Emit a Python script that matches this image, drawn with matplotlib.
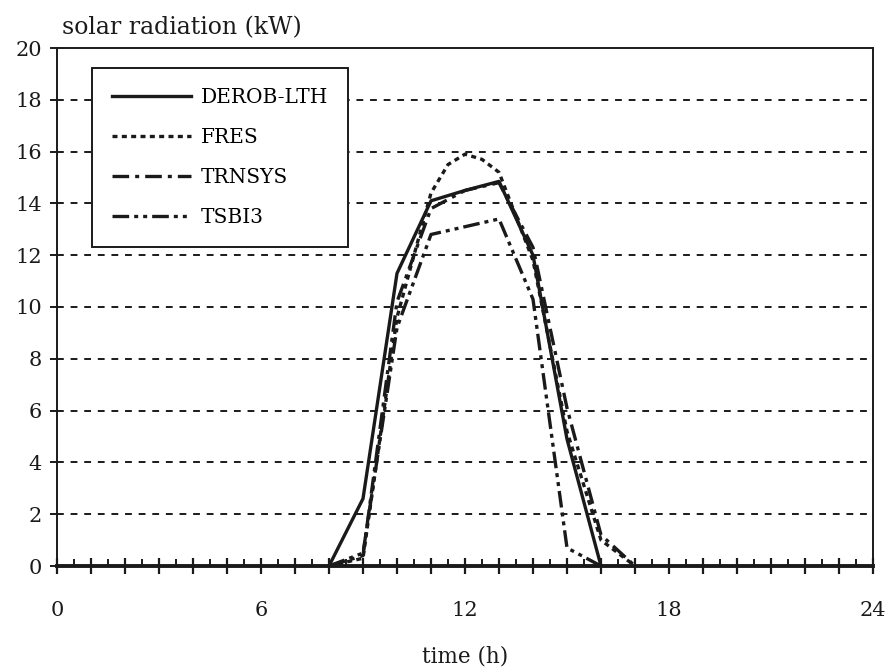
import numpy as np
import matplotlib.pyplot as plt
from matplotlib.ticker import MultipleLocator, FuncFormatter

# values
h_derob = [8, 9, 10, 11, 12, 13, 14, 15, 16]
derob = [0.0, 2.6, 11.3, 14.1, 14.5, 14.85, 12.0, 4.9, 0.0]

h_fres = [8, 9, 10, 11, 11.5, 12, 12.5, 13, 14, 15, 16, 17]
fres = [0.0, 0.3, 9.6, 14.4, 15.5, 15.9, 15.7, 15.2, 11.8, 5.2, 1.0, 0.0]

h_trnsys = [8, 9, 10, 11, 12, 13, 14, 15, 16, 17]
trnsys = [0.0, 0.4, 10.2, 13.8, 14.5, 14.8, 12.3, 6.1, 1.2, 0.0]

h_tsbi3 = [8, 9, 10, 11, 12, 13, 14, 15, 16]
tsbi3 = [0.0, 0.5, 9.2, 12.8, 13.1, 13.4, 10.3, 0.7, 0.0]

plt.rcParams["font.family"] = ["DejaVu Serif"]

fig = plt.figure(figsize=(8.9, 6.68), dpi=100)
ax = fig.add_axes([57 / 890, 102 / 668, 816 / 890, 518 / 668])

ink = "#1a1a1a"
lw = 2.4
ax.plot(h_derob, derob, color=ink, lw=lw, ls="-", label="DEROB-LTH", zorder=5)
ax.plot(h_fres, fres, color=ink, lw=lw, ls=(0, (1.5, 1.3)), label="FRES", zorder=4)
ax.plot(h_trnsys, trnsys, color=ink, lw=lw, ls=(0, (5, 1.8, 1.2, 1.8)), label="TRNSYS", zorder=4)
ax.plot(h_tsbi3, tsbi3, color=ink, lw=lw, ls=(0, (5, 1.5, 1.2, 1.5, 1.2, 1.5)), label="TSBI3", zorder=4)

ax.set_xlim(0, 24)
ax.set_ylim(0, 20)

# horizontal dashed grid
for yv in range(2, 20, 2):
    ax.axhline(yv, color=ink, lw=1.4, ls=(0, (3.5, 3.5)), zorder=1)

ax.xaxis.set_major_locator(MultipleLocator(1))
ax.xaxis.set_minor_locator(MultipleLocator(0.5))
ax.xaxis.set_major_formatter(FuncFormatter(lambda v, p: "%d" % v if v % 6 == 0 else ""))
ax.yaxis.set_major_locator(MultipleLocator(2))

ax.tick_params(axis="x", which="major", direction="inout", length=11, width=1.6,
               pad=20, labelsize=15, colors=ink)
ax.tick_params(axis="x", which="minor", direction="in", length=5, width=1.4, colors=ink)
ax.tick_params(axis="y", which="major", direction="out", length=5, width=1.4,
               pad=6, labelsize=15, colors=ink)

for s in ["left", "right", "top"]:
    ax.spines[s].set_linewidth(1.4)
    ax.spines[s].set_color(ink)
ax.spines["bottom"].set_linewidth(2.8)
ax.spines["bottom"].set_color(ink)

ax.text(0.006, 1.039, "solar radiation (kW)", transform=ax.transAxes,
        fontsize=17, ha="left", va="center", color=ink)
ax.set_xlabel("time (h)", fontsize=15.5, labelpad=18, color=ink)

leg = ax.legend(loc="upper left", bbox_to_anchor=(0.043, 0.962), fontsize=14.5,
                handlelength=3.9, handletextpad=0.5, borderpad=1.0,
                labelspacing=1.05, borderaxespad=0, frameon=True, fancybox=False,
                edgecolor=ink, framealpha=1)
leg.get_frame().set_linewidth(1.4)
leg.set_zorder(10)

fig.savefig("out.png", dpi=100)
